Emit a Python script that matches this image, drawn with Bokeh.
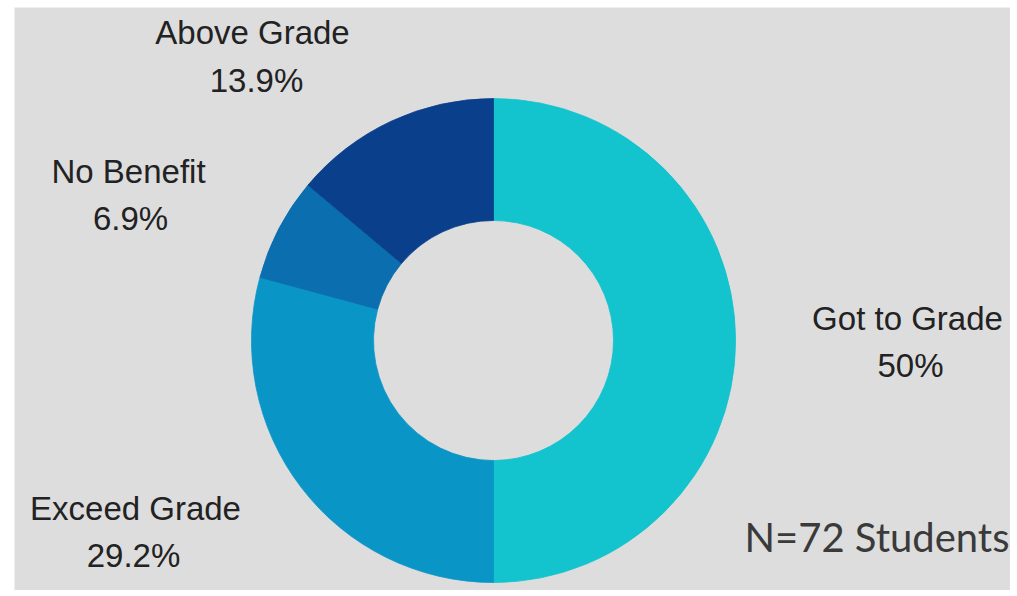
import math
from bokeh.plotting import figure
from bokeh.models import Range1d, Label, ColumnDataSource
from bokeh.embed import file_html
from bokeh.resources import INLINE

# ---- data ----
categories = ["Got to Grade", "Exceed Grade", "No Benefit", "Above Grade"]
percent = [50.0, 29.2, 6.9, 13.9]
percent_labels = ["50%", "29.2%", "6.9%", "13.9%"]
note = "N=72 Students"

# ---- styles ----
colors = ["#13C3CD", "#0A95C7", "#0A6EAF", "#0A3F8B"]
bg = "#DDDDDE"

# ---- layout (pixel coordinates of the picture, y measured from top) ----
PAGE_H = 596
cx, cy = 493, 340
r_out, r_in = 242, 120
label_pos = {
    "Got to Grade": (907, 318, 910, 365),
    "Exceed Grade": (135, 508, 133, 555),
    "No Benefit": (128, 171, 130, 218),
    "Above Grade": (252, 32, 256, 80),
}

total = sum(percent)
starts, ends = [], []
cum = 0.0
for v in percent:
    starts.append(math.pi / 2 - 2 * math.pi * cum / total)
    cum += v
    ends.append(math.pi / 2 - 2 * math.pi * cum / total)

src = ColumnDataSource(dict(
    x=[cx] * len(categories),
    y=[PAGE_H - cy] * len(categories),
    start=starts, end=ends, color=colors, cat=categories,
))

p = figure(width=1010, height=590, output_backend="svg", toolbar_location=None,
           x_range=Range1d(14, 1010), y_range=Range1d(PAGE_H - 590, PAGE_H - 7),
           min_border=0, min_border_left=14, min_border_top=7)
p.axis.visible = False
p.grid.visible = False
p.outline_line_color = None
p.background_fill_color = bg
p.border_fill_color = "white"

p.annular_wedge(x="x", y="y", inner_radius=r_in, outer_radius=r_out,
                start_angle="start", end_angle="end", direction="clock",
                fill_color="color", line_color="color", line_width=0.8, source=src)

for cat, pl in zip(categories, percent_labels):
    nx, ny, px, py = label_pos[cat]
    p.add_layout(Label(x=nx, y=PAGE_H - ny, text=cat, text_align="center",
                       text_baseline="middle", text_font="Liberation Sans",
                       text_font_size="33px", text_color="#222222"))
    p.add_layout(Label(x=px, y=PAGE_H - py, text=pl, text_align="center",
                       text_baseline="middle", text_font="Liberation Sans",
                       text_font_size="33px", text_color="#222222"))

p.add_layout(Label(x=1009, y=PAGE_H - 536, text=note, text_align="right",
                   text_baseline="middle", text_font="Lato",
                   text_font_size="40px", text_color="#3A3A3A"))

open("out.html", "w").write(file_html(p, INLINE))
